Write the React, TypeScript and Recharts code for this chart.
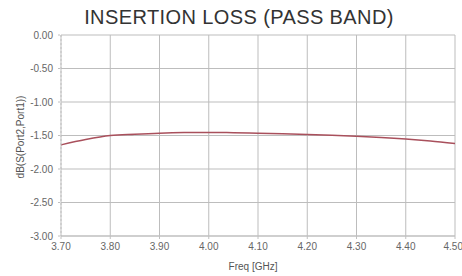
import { CartesianGrid, Line, LineChart, XAxis, YAxis } from "recharts";

const freqs = [3.7, 3.75, 3.8, 3.85, 3.9, 3.95, 4.0, 4.05, 4.1, 4.15, 4.2, 4.25, 4.3, 4.35, 4.4, 4.45, 4.5];
const lossDb = [-1.64, -1.56, -1.5, -1.48, -1.465, -1.457, -1.455, -1.458, -1.465, -1.473, -1.485, -1.498, -1.513, -1.53, -1.553, -1.583, -1.62];
const xTicks = [3.7, 3.8, 3.9, 4.0, 4.1, 4.2, 4.3, 4.4, 4.5];
const yTicks = [0, -0.5, -1, -1.5, -2, -2.5, -3];

const data = freqs.map((f, i) => ({ f, db: lossDb[i] }));

const font = "'Liberation Sans', Arial, sans-serif";

export default function App() {
  return (
    <div style={{ position: "absolute", left: 0, top: 0, width: 462, height: 276, background: "#fff", fontFamily: font }}>
      <div
        style={{
          position: "absolute",
          left: 0,
          top: 6,
          width: 478,
          textAlign: "center",
          fontSize: 20,
          letterSpacing: 0.4,
          color: "#333",
        }}
      >
        INSERTION LOSS (PASS BAND)
      </div>
      <div
        style={{
          position: "absolute",
          left: 20,
          top: 137,
          fontSize: 10,
          color: "#555",
          transform: "translate(-50%, -50%) rotate(-90deg)",
          whiteSpace: "nowrap",
        }}
      >
        dB(S(Port2,Port1))
      </div>
      <div style={{ position: "absolute", left: 208, top: 261, width: 90, textAlign: "center", fontSize: 10, color: "#555" }}>
        Freq [GHz]
      </div>
      <LineChart
        width={462}
        height={276}
        data={data}
        margin={{ top: 35, right: 7, left: 0, bottom: 0 }}
        style={{ position: "absolute", left: 0, top: 0 }}
      >
        <CartesianGrid stroke="#bdbdbd" horizontalValues={yTicks} verticalValues={xTicks} />
        <XAxis
          dataKey="f"
          type="number"
          domain={[3.7, 4.5]}
          ticks={xTicks}
          tickFormatter={(v: number) => v.toFixed(2)}
          tick={{ fontSize: 10, fill: "#666", fontFamily: font, dy: 2 }}
          tickSize={3}
          stroke="#c0c0c0"
          height={40}
        />
        <YAxis
          type="number"
          domain={[-3, 0]}
          ticks={yTicks}
          tickFormatter={(v: number) => v.toFixed(2)}
          tick={{ fontSize: 10, fill: "#666", fontFamily: font, dx: -3 }}
          tickSize={3}
          stroke="#c0c0c0"
          strokeDasharray="2 2"
          width={61}
        />
        <Line
          dataKey="db"
          stroke="#a9505c"
          strokeWidth={1.5}
          dot={false}
          type="monotone"
          isAnimationActive={false}
        />
      </LineChart>
    </div>
  );
}
